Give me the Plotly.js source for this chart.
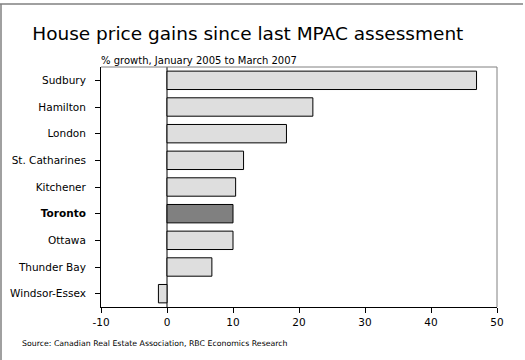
<!DOCTYPE html>
<html>
<head>
<meta charset="utf-8">
<script src="https://cdn.plot.ly/plotly-3.0.1.min.js"></script>
<style>body{margin:0;padding:0;background:#fff}#chart{width:525px;height:360px}</style>
</head>
<body>
<div id="chart"></div>
<script>
const cities = ["Sudbury","Hamilton","London","St. Catharines","Kitchener","Toronto","Ottawa","Thunder Bay","Windsor-Essex"];
const growth = [46.9, 22.1, 18.1, 11.6, 10.4, 10.0, 10.0, 6.8, -1.3];
const highlight = "Toronto";
const xTicks = [-10, 0, 10, 20, 30, 40, 50];

const FONT = "DejaVu Sans, Verdana, sans-serif";
const colors = cities.map(c => c === highlight ? "#808080" : "#dedede");
const tickText = cities.map(c => c === highlight ? "<b>" + c + "</b>" : c);

const trace = {
  type: "bar",
  orientation: "h",
  y: cities,
  x: growth,
  marker: {color: colors, line: {color: "#000", width: 1}},
  hoverinfo: "x+y"
};

const layout = {
  width: 525, height: 360,
  margin: {l: 101, r: 28, t: 67, b: 53},
  paper_bgcolor: "#fff", plot_bgcolor: "#fff",
  showlegend: false,
  bargap: 0.31,
  font: {family: FONT, color: "#000", size: 10},
  title: {
    text: "House price gains since last MPAC assessment",
    font: {family: FONT, size: 18.5, color: "#000"},
    x: 0.472, xanchor: "center", xref: "container",
    y: 0.908, yanchor: "middle", yref: "container"
  },
  xaxis: {
    range: [-10, 50],
    tickvals: xTicks,
    ticktext: xTicks.map(String),
    ticks: "outside", ticklen: 5, tickcolor: "#000", tickwidth: 1,
    showline: true, linecolor: "#000", linewidth: 1,
    showgrid: false,
    zeroline: true, zerolinecolor: "#808080", zerolinewidth: 1.5,
    tickfont: {family: FONT, size: 10.5, color: "#000"},
    fixedrange: true
  },
  yaxis: {
    autorange: "reversed",
    tickvals: cities,
    ticktext: tickText,
    ticks: "outside", ticklen: 5, tickcolor: "#000", tickwidth: 1,
    ticklabelstandoff: 7,
    showline: true, linecolor: "#000", linewidth: 1,
    showgrid: false, zeroline: false,
    tickfont: {family: FONT, size: 10.5, color: "#000"},
    fixedrange: true
  },
  shapes: [
    {type: "line", xref: "paper", yref: "paper", x0: 0, x1: 1, y0: 1, y1: 1, line: {color: "#808080", width: 1}},
    {type: "line", xref: "paper", yref: "paper", x0: 1, x1: 1, y0: 0, y1: 1, line: {color: "#808080", width: 1}},
    {type: "line", xref: "paper", yref: "paper", x0: -101/396, x1: 422/396, y0: 1 + 63/240, y1: 1 + 63/240, line: {color: "#808080", width: 1.5}},
    {type: "line", xref: "paper", yref: "paper", x0: -100/396, x1: -100/396, y0: -53/240, y1: 1 + 63/240, line: {color: "#808080", width: 1.5}}
  ],
  annotations: [
    {text: "% growth, January 2005 to March 2007", xref: "paper", yref: "paper", x: 0, y: 1, xanchor: "left", yanchor: "bottom", yshift: -1, xshift: -2, showarrow: false, font: {family: FONT, size: 10, color: "#000"}},
    {text: "Source: Canadian Real Estate Association, RBC Economics Research", xref: "paper", yref: "paper", x: -81/396, y: -36/240, xanchor: "left", yanchor: "middle", showarrow: false, font: {family: FONT, size: 7.8, color: "#000"}}
  ]
};

Plotly.newPlot("chart", [trace], layout, {displayModeBar: false, staticPlot: true});
</script>
</body>
</html>
